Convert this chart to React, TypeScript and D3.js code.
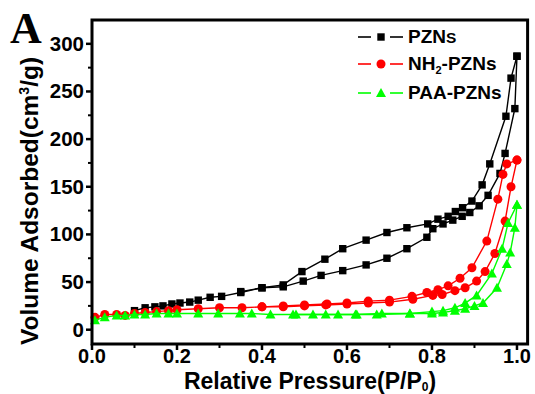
import React from "react";
import * as d3 from "d3";

const pznAdsX = [0.10,0.125,0.148,0.167,0.188,0.207,0.23,0.25,0.278,0.305,0.35,0.40,0.45,0.497,0.539,0.59,0.645,0.694,0.741,0.788,0.802,0.826,0.849,0.871,0.889,0.911,0.932,0.96,0.972,0.995,1.0];
const pznAdsY = [20,23,24,25,27,28,29,31,34,35,39,44,45,51,57,62,68,75,85,97,106,111,115,119,123,130,141,164,185,232,287];
const pznDesX = [1.0,0.986,0.974,0.936,0.918,0.894,0.872,0.855,0.838,0.814,0.79,0.741,0.694,0.645,0.59,0.548,0.494,0.45,0.40,0.35];
const pznDesY = [287,264,224,174,152,135,128,124,119,116,111,107,102,94,85,74,61,47,44,40];

const nhAdsX = [0.007,0.03,0.058,0.078,0.1,0.125,0.152,0.18,0.2,0.25,0.3,0.353,0.40,0.45,0.5,0.55,0.6,0.65,0.70,0.755,0.802,0.824,0.854,0.878,0.905,0.925,0.948,0.972,0.986,1.0];
const nhAdsY = [13,16,16,15,17,18,19,20,21,22,23,23,24,24,25,26,27,28,29,32,36,37,41,44,51,61,80,114,150,178];
const nhDesX = [1.0,0.976,0.967,0.955,0.929,0.894,0.866,0.838,0.814,0.788,0.753,0.70,0.65,0.60,0.553,0.50,0.45,0.40];
const nhDesY = [178,174,163,137,93,65,54,46,42,39,35,31,30,28,27,26,25,24];

const paaAdsX = [0.007,0.03,0.058,0.078,0.1,0.125,0.152,0.18,0.2,0.25,0.297,0.348,0.376,0.42,0.473,0.52,0.579,0.623,0.67,0.748,0.8,0.826,0.854,0.878,0.9,0.92,0.953,0.976,0.984,0.995,1.0];
const paaAdsY = [10,13,15,15,16,16,17,17,17,17,17,17,17,16,16,16,16,16,16,17,17,18,20,22,25,28,44,69,81,107,131];
const paaDesX = [1.0,0.979,0.965,0.941,0.905,0.878,0.854,0.826,0.80,0.748,0.682,0.62,0.55,0.48];
const paaDesY = [131,112,85,59,36,28,23,20,19,17,17,16,16,16];

const xTicks = [0, 0.2, 0.4, 0.6, 0.8, 1.0];
const xMinor = [0.1, 0.3, 0.5, 0.7, 0.9];
const yTicks = [0, 50, 100, 150, 200, 250, 300];
const yMinor = [25, 75, 125, 175, 225, 275];

const W = 535, H = 394;
const L = 92, R = 527.6, T = 20, B = 344;

export default function App() {
  const x = d3.scaleLinear().domain([0, 1.025]).range([L, R]);
  const y = d3.scaleLinear().domain([-15, 325]).range([B, T]);
  const line = d3.line<[number, number]>().x(d => x(d[0])).y(d => y(d[1]));
  const zip = (a: number[], b: number[]) => a.map((v, i) => [v, b[i]] as [number, number]);

  const series = [
    { name: "PZNs", color: "#000000", marker: "square", parts: [zip(pznAdsX, pznAdsY), zip(pznDesX, pznDesY)] },
    { name: "NH2-PZNs", color: "#ff0000", marker: "circle", parts: [zip(nhAdsX, nhAdsY), zip(nhDesX, nhDesY)] },
    { name: "PAA-PZNs", color: "#00ff00", marker: "triangle", parts: [zip(paaAdsX, paaAdsY), zip(paaDesX, paaDesY)] },
  ];

  const marker = (type: string, cx: number, cy: number, color: string, key: any) => {
    if (type === "square") return <rect key={key} x={cx - 3.7} y={cy - 3.7} width={7.4} height={7.4} fill={color} />;
    if (type === "circle") return <circle key={key} cx={cx} cy={cy} r={4.5} fill={color} />;
    const s = 5;
    return <path key={key} d={`M${cx},${cy - s}L${cx + s},${cy + s * 0.8}L${cx - s},${cy + s * 0.8}Z`} fill={color} />;
  };

  const font = "'Liberation Sans', Arial, sans-serif";
  const legendY = [37, 64, 93];

  return (
    <div style={{ position: "absolute", left: 0, top: 0 }}>
      <svg width={W} height={H} style={{ display: "block", background: "#fff" }}>
        {series.map((s, si) => (
          <g key={si}>
            {s.parts.map((p, pi) => (
              <path key={pi} d={line(p) || ""} fill="none" stroke={s.color} strokeWidth={1.4} />
            ))}
            {s.parts.map((p, pi) => p.map((d, di) => marker(s.marker, x(d[0]), y(d[1]), s.color, `${pi}-${di}`)))}
          </g>
        ))}
        <rect x={L} y={T} width={R - L} height={B - T} fill="none" stroke="#000" strokeWidth={3} />
        {xTicks.map(t => (
          <g key={t}>
            <line x1={x(t)} x2={x(t)} y1={B} y2={B + 6} stroke="#000" strokeWidth={2.5} />
            <text x={x(t)} y={363} textAnchor="middle" fontFamily={font} fontWeight="bold" fontSize={20}>{t.toFixed(1)}</text>
          </g>
        ))}
        {xMinor.map(t => <line key={t} x1={x(t)} x2={x(t)} y1={B} y2={B + 4} stroke="#000" strokeWidth={2} />)}
        {yTicks.map(t => (
          <g key={t}>
            <line x1={L - 6} x2={L} y1={y(t)} y2={y(t)} stroke="#000" strokeWidth={2.5} />
            <text x={L - 8} y={y(t) + 7} textAnchor="end" fontFamily={font} fontWeight="bold" fontSize={20.5}>{t}</text>
          </g>
        ))}
        {yMinor.map(t => <line key={t} x1={L - 4} x2={L} y1={y(t)} y2={y(t)} stroke="#000" strokeWidth={2} />)}
        <text x={310} y={389} textAnchor="middle" fontFamily={font} fontWeight="bold" fontSize={23}>
          Relative Pressure(P/P<tspan fontSize={12} dy={2}>0</tspan><tspan dy={-2}>)</tspan>
        </text>
        <text transform="translate(38,201) rotate(-90)" textAnchor="middle" fontFamily={font} fontWeight="bold" fontSize={24.5}>
          Volume Adsorbed(cm<tspan fontSize={14} dy={-9}>3</tspan><tspan dy={9}>/g)</tspan>
        </text>
        <text x={10} y={43} fontFamily="'Liberation Serif', 'Times New Roman', serif" fontWeight="bold" fontSize={44}>A</text>
        {series.map((s, i) => (
          <g key={i}>
            <line x1={358} x2={371} y1={legendY[i]} y2={legendY[i]} stroke={s.color} strokeWidth={1.6} />
            <line x1={390} x2={403} y1={legendY[i]} y2={legendY[i]} stroke={s.color} strokeWidth={1.6} />
            {marker(s.marker, 381, legendY[i], s.color, "m")}
          </g>
        ))}
        <text x={408} y={43} fontFamily={font} fontWeight="bold" fontSize={19}>PZN<tspan fontSize={15.5}>S</tspan></text>
        <text x={408} y={70} fontFamily={font} fontWeight="bold" fontSize={19}>NH<tspan fontSize={11} dy={4}>2</tspan><tspan dy={-4}>-PZNs</tspan></text>
        <text x={408} y={99} fontFamily={font} fontWeight="bold" fontSize={19}>PAA-PZNs</text>
      </svg>
    </div>
  );
}
